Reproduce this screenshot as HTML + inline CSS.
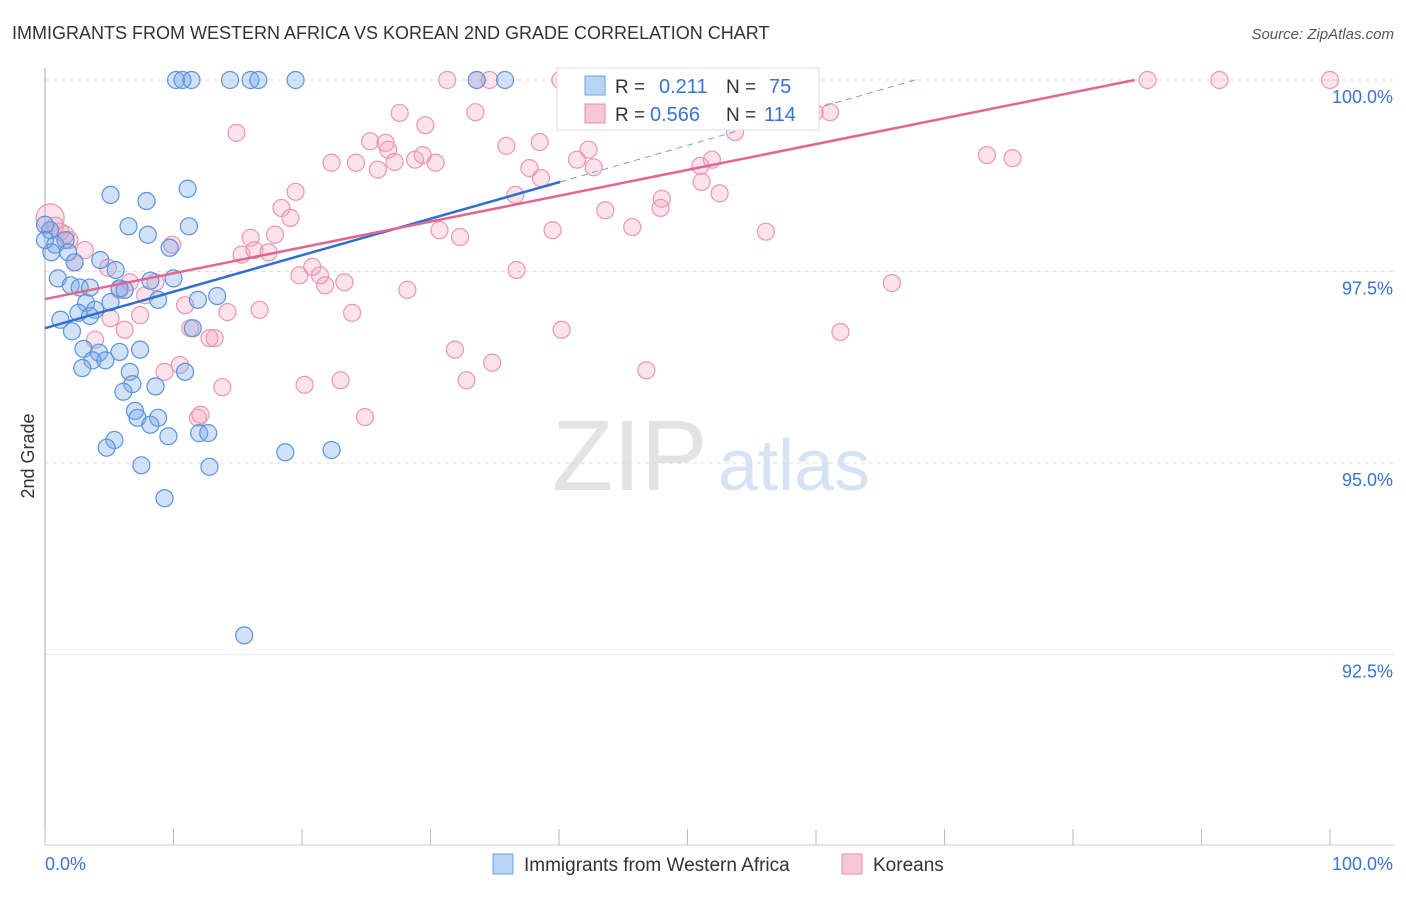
<!DOCTYPE html>
<html><head><meta charset="utf-8"><style>
body{margin:0;background:#fff;font-family:"Liberation Sans",sans-serif;}
svg text{font-family:"Liberation Sans",sans-serif;}
</style></head><body>
<svg id="chart" width="1406" height="892" xmlns="http://www.w3.org/2000/svg">
<text x="12" y="39" font-size="18" fill="#333">IMMIGRANTS FROM WESTERN AFRICA VS KOREAN 2ND GRADE CORRELATION CHART</text>
<text x="1394" y="39" font-size="15" fill="#555" text-anchor="end" font-style="italic">Source: ZipAtlas.com</text>
<g><text x="552" y="490" font-size="100" fill="#e3e3e3" font-family="Liberation Serif">ZIP</text><text x="718" y="490" font-size="72" fill="#d6e3f4">atlas</text></g>
<g id="grid"></g><g id="marks"></g>
<text transform="translate(34,456) rotate(-90)" font-size="18" fill="#333" text-anchor="middle">2nd Grade</text>
<g id="legbox">
<rect x="557" y="68" width="262" height="62" fill="#fff" stroke="#ddd"/>
<rect x="585" y="76" width="20" height="19" fill="#b8d4f5" stroke="#6fa0e0"/>
<rect x="585" y="104" width="20" height="19" fill="#f9c6d4" stroke="#e58fa9"/>
<text x="615" y="93" font-size="19" fill="#333">R = </text><text x="659" y="93" font-size="20" fill="#3a74d0">0.211</text>
<text x="726" y="93" font-size="19" fill="#333">N = </text><text x="769" y="93" font-size="20" fill="#3a74d0">75</text>
<text x="615" y="121" font-size="19" fill="#333">R = </text><text x="650" y="121" font-size="20" fill="#3a74d0">0.566</text>
<text x="726" y="121" font-size="19" fill="#333">N = </text><text x="764" y="121" font-size="20" fill="#3a74d0">114</text>
</g>
<g>
<rect x="493" y="854" width="20" height="20" fill="#b8d4f5" stroke="#6fa0e0"/>
<text x="524" y="871" font-size="19" fill="#333">Immigrants from Western Africa</text>
<rect x="842" y="854" width="20" height="20" fill="#f9c6d4" stroke="#e58fa9"/>
<text x="873" y="871" font-size="19" fill="#333">Koreans</text>
</g>
</svg>
<script>
const blueX=[10.2,10.7,11.4,14.4,16,16.6,19.5,33.6,35.8,5.1,7.9,11.1,6.5,8,11.2,9.7,0.4,0.8,1.6,0.5,1.8,1,2.3,4.3,5.5,2,2.7,3.5,5.8,6.2,8.2,10,3.2,5.1,8.8,11.9,13.4,1.2,2.6,3.9,3.5,2.1,11.5,3,4.2,5.8,7.4,3.7,4.7,2.9,6.6,10.9,6.8,8.6,6.1,7,7.2,8.8,8.2,9.6,12,12.7,5.4,4.8,7.5,12.8,18.7,22.3,9.3,15.5,0,0];
const blueY=[100,100,100,100,100,100,100,100,100,98.5,98.42,98.58,98.09,97.98,98.09,97.81,98.04,97.85,97.91,97.75,97.75,97.41,97.62,97.65,97.52,97.32,97.29,97.29,97.28,97.26,97.38,97.41,97.09,97.1,97.13,97.13,97.18,96.87,96.96,97,96.92,96.72,96.76,96.49,96.44,96.45,96.48,96.34,96.34,96.24,96.19,96.19,96.03,96,95.93,95.68,95.59,95.59,95.5,95.35,95.39,95.39,95.3,95.2,94.97,94.95,95.14,95.17,94.54,92.75,98.11,97.91];
const pinkX=[0.4,1.2,1.9,3.1,2.3,4.9,6.6,8.6,5.8,7.8,5.1,6.2,7.4,9.9,10.9,11.3,12.8,13.2,14.2,3.9,9.3,10.5,13.8,11.9,12.1,14.9,16.0,15.3,16.3,17.4,17.9,18.4,19.1,19.5,19.8,20.8,21.4,21.8,23.3,16.7,20.2,23.0,23.9,24.9,22.3,24.2,25.3,26.5,26.7,25.9,27.2,27.6,28.8,29.4,30.4,29.6,28.2,30.7,32.3,33.5,31.9,32.8,34.8,35.9,36.6,36.7,37.7,38.6,38.5,39.5,40.2,41.4,42.3,42.7,43.6,45.7,46.8,47.9,48.0,51.0,51.1,51.9,52.5,53.7,56.1,59.9,61.1,61.9,65.9,73.3,75.3,85.8,91.4,100,31.3,33.6,34.6,40.1,40.9,47.1,50.2,52.5,56.0,57.2,0.8,1.6];
const pinkY=[98.2,98.02,97.91,97.78,97.62,97.55,97.36,97.36,97.26,97.19,96.89,96.74,96.93,97.85,97.06,96.76,96.63,96.63,96.97,96.61,96.19,96.28,95.99,95.59,95.63,99.31,97.94,97.72,97.78,97.75,97.98,98.33,98.2,98.54,97.45,97.56,97.45,97.32,97.36,97.0,96.02,96.08,96.96,95.6,98.92,98.92,99.2,99.18,99.09,98.83,98.93,99.57,98.96,99.02,98.92,99.41,97.26,98.04,97.95,99.58,96.48,96.08,96.31,99.14,98.5,97.52,98.85,98.72,99.19,98.04,96.74,98.96,99.09,98.86,98.3,98.08,96.21,98.33,98.45,98.88,98.67,98.96,98.52,99.32,98.02,99.58,99.58,96.71,97.35,99.02,98.98,100,100,100,100,100,100,100,100,100,100,100,100,100,98.1,97.98];
const blueLine=[[0,96.76],[40.1,98.67]], blueDash=[[40.1,98.67],[67.7,100]];
const pinkLine=[[0,97.14],[84.8,100]];
const yTicks=[100,97.5,95,92.5], yTickLabels=["100.0%","97.5%","95.0%","92.5%"];
const xTicks=[0,10,20,30,40,50,60,70,80,90,100];
const X=v=>45+v*12.85, Y=v=>80+(100-v)*76.6;
const NS="http://www.w3.org/2000/svg";
function mk(t,a,p){const e=document.createElementNS(NS,t);for(const k in a)e.setAttribute(k,a[k]);p.appendChild(e);return e;}
const g=document.getElementById('grid'), m=document.getElementById('marks');
yTicks.forEach((v,i)=>{const l=mk('line',{x1:45,x2:1394,y1:Y(v),y2:Y(v),stroke:'#ddd','stroke-dasharray':'4,4'},g);


const t=mk('text',{x:1393,y:Y(v)+23,'font-size':18,fill:'#3a74d0','text-anchor':'end'},g);t.textContent=yTickLabels[i];

});
const ax=mk('line',{x1:45,x2:45,y1:68,y2:845,stroke:'#aaa'},g);


const bx=mk('line',{x1:45,x2:1394,y1:845,y2:845,stroke:'#ccc'},g);


xTicks.forEach(v=>{const l=mk('line',{x1:X(v),x2:X(v),y1:829,y2:845,stroke:'#bbb'},g);

});
[[0,'0.0%','start',45],[100,'100.0%','end',1393]].forEach(a=>{const t=mk('text',{x:a[3],y:870,'font-size':18,fill:'#3a74d0','text-anchor':a[2]},g);t.textContent=a[1];

});
pinkX.forEach((v,i)=>{const c=mk('circle',{cx:X(v),cy:Y(pinkY[i]),r:i===0?14:8.5,fill:'rgba(245,160,185,0.3)',stroke:'#ea97b0','stroke-width':1.2},m);

});
blueX.forEach((v,i)=>{const c=mk('circle',{cx:X(v),cy:Y(blueY[i]),r:8.5,fill:'rgba(120,170,235,0.35)',stroke:'#5b93dd','stroke-width':1.2},m);

});
const bl=mk('line',{x1:X(blueLine[0][0]),y1:Y(blueLine[0][1]),x2:X(blueLine[1][0]),y2:Y(blueLine[1][1]),stroke:'#2f6fd0','stroke-width':2.5},m);


const bd=mk('line',{x1:X(blueDash[0][0]),y1:Y(blueDash[0][1]),x2:X(blueDash[1][0]),y2:Y(blueDash[1][1]),stroke:'#6fa0e0','stroke-width':1,'stroke-dasharray':'6,5'},m);


const pl=mk('line',{x1:X(pinkLine[0][0]),y1:Y(pinkLine[0][1]),x2:X(pinkLine[1][0]),y2:Y(pinkLine[1][1]),stroke:'#e2668f','stroke-width':2.5},m);


document.getElementById('chart').appendChild(document.getElementById('legbox'));
</script>
</body></html>
